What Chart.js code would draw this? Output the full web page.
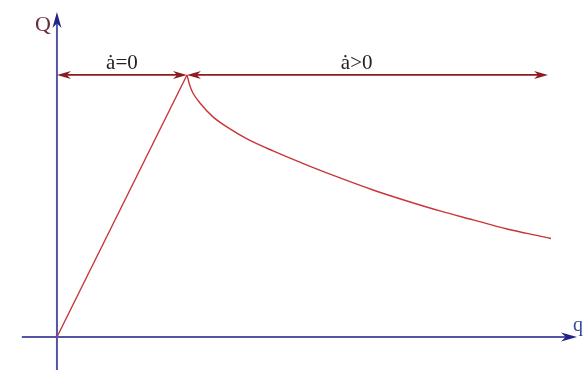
<!DOCTYPE html>
<html>
<head>
<meta charset="utf-8">
<script src="https://cdn.jsdelivr.net/npm/chart.js@4/dist/chart.umd.min.js"></script>
<style>
  html, body { margin: 0; padding: 0; background: #fff; }
  #wrap { width: 583px; height: 370px; }
</style>
</head>
<body>
<div id="wrap"><canvas id="chart" width="583" height="370"></canvas></div>
<script>
// --- Curve data (q, Q) ---
// loading branch: straight rise from origin to the peak
const loadQ = [0, 1.0];
const loadV = [0, 1.0];
// softening branch after the peak
const softQ = [1.0, 1.023, 1.046, 1.1, 1.2, 1.331, 1.462, 1.662, 1.923, 2.177, 2.431, 2.692, 2.946, 3.2, 3.462, 3.715, 3.8];
const softV = [1.0, 0.958, 0.931, 0.893, 0.84, 0.794, 0.756, 0.71, 0.656, 0.607, 0.561, 0.519, 0.481, 0.447, 0.412, 0.385, 0.376];

// regime markers along the top: [from, to] in q, drawn at Q = peak
const regimeLabels = ['\u0227=0', '\u0227>0'];
const regimeSpans = [[0, 1.0], [1.0, 3.777]];
const regimeLevel = 1.0;

// axis extents
const axisQ = [-0.27, 4.0];
const axisV = [-0.13, 1.24];

// --- Colours ---
const AXIS = '#5555a8';
const AXIS_HEAD = '#22228a';
const CURVE = '#c8353a';
const SPAN = '#8e1b1f';

const toPts = (xs, ys) => xs.map((x, i) => ({ x, y: ys[i] }));

function arrowHead(ctx, x, y, dir, len, half, color) {
    // dir: angle in radians the arrow points to
    ctx.save();
    ctx.translate(x, y);
    ctx.rotate(dir);
    ctx.fillStyle = color;
    ctx.beginPath();
    ctx.moveTo(0, 0);
    ctx.lineTo(-len, -half);
    ctx.lineTo(-len * 0.7, 0);
    ctx.lineTo(-len, half);
    ctx.closePath();
    ctx.fill();
    ctx.restore();
}

// axes, regime arrows and labels, all placed through the scales
const diagram = {
    id: 'diagram',
    beforeDatasetsDraw(chart) {
        const { ctx, scales: { x, y } } = chart;
        const ox = x.getPixelForValue(0), oy = y.getPixelForValue(0);
        ctx.save();
        ctx.strokeStyle = AXIS;
        ctx.lineWidth = 2;
        // horizontal axis
        const hx0 = x.getPixelForValue(axisQ[0]), hx1 = x.getPixelForValue(axisQ[1]);
        ctx.beginPath();
        ctx.moveTo(hx0, oy);
        ctx.lineTo(hx1 - 8, oy);
        ctx.stroke();
        arrowHead(ctx, hx1, oy, 0, 16, 4.5, AXIS_HEAD);
        // vertical axis
        const vy0 = y.getPixelForValue(axisV[0]), vy1 = y.getPixelForValue(axisV[1]);
        ctx.beginPath();
        ctx.moveTo(ox, vy0);
        ctx.lineTo(ox, vy1 + 8);
        ctx.stroke();
        arrowHead(ctx, ox, vy1, -Math.PI / 2, 16, 4.5, AXIS_HEAD);
        ctx.restore();
    },
    afterDatasetsDraw(chart) {
        const { ctx, scales: { x, y } } = chart;
        const ly = y.getPixelForValue(regimeLevel);
        ctx.save();
        ctx.strokeStyle = SPAN;
        ctx.lineWidth = 1.8;
        regimeSpans.forEach(([a, b], i) => {
            const xa = x.getPixelForValue(a), xb = x.getPixelForValue(b);
            ctx.beginPath();
            ctx.moveTo(xa + 6, ly);
            ctx.lineTo(xb - 6, ly);
            ctx.stroke();
            arrowHead(ctx, xa, ly, Math.PI, 14, 4, SPAN);
            arrowHead(ctx, xb, ly, 0, 14, 4, SPAN);
            ctx.fillStyle = '#222';
            ctx.font = '21px "Liberation Serif", "DejaVu Serif", serif';
            ctx.textAlign = 'center';
            ctx.textBaseline = 'alphabetic';
            const cx = i === 0 ? (xa + xb) / 2 : xa + (xb - xa) * 0.47;
            ctx.fillText(regimeLabels[i], cx, ly - 6);
        });
        // axis names
        ctx.font = '22px "Liberation Serif", "DejaVu Serif", serif';
        ctx.textAlign = 'center';
        ctx.fillStyle = '#6b2a3a';
        ctx.fillText('Q', x.getPixelForValue(0) - 14, y.getPixelForValue(axisV[1]) + 19);
        ctx.fillStyle = '#3a4a9a';
        ctx.font = '20px "Liberation Serif", "DejaVu Serif", serif';
        ctx.fillText('q', x.getPixelForValue(axisQ[1]) + 1, y.getPixelForValue(0) - 6);
        ctx.restore();
    }
};

new Chart(document.getElementById('chart'), {
    type: 'scatter',
    data: {
        datasets: [
            {
                data: toPts(loadQ, loadV),
                showLine: true,
                borderColor: CURVE,
                borderWidth: 1.4,
                pointRadius: 0,
                tension: 0
            },
            {
                data: toPts(softQ, softV),
                showLine: true,
                borderColor: CURVE,
                borderWidth: 1.4,
                pointRadius: 0,
                cubicInterpolationMode: 'monotone'
            }
        ]
    },
    options: {
        responsive: false,
        animation: false,
        layout: { padding: 0 },
        scales: {
            x: { type: 'linear', display: false, min: -0.438, max: 4.046 },
            y: { type: 'linear', display: false, min: -0.126, max: 1.286 }
        },
        plugins: {
            legend: { display: false },
            tooltip: { enabled: false }
        }
    },
    plugins: [diagram]
});
</script>
</body>
</html>
